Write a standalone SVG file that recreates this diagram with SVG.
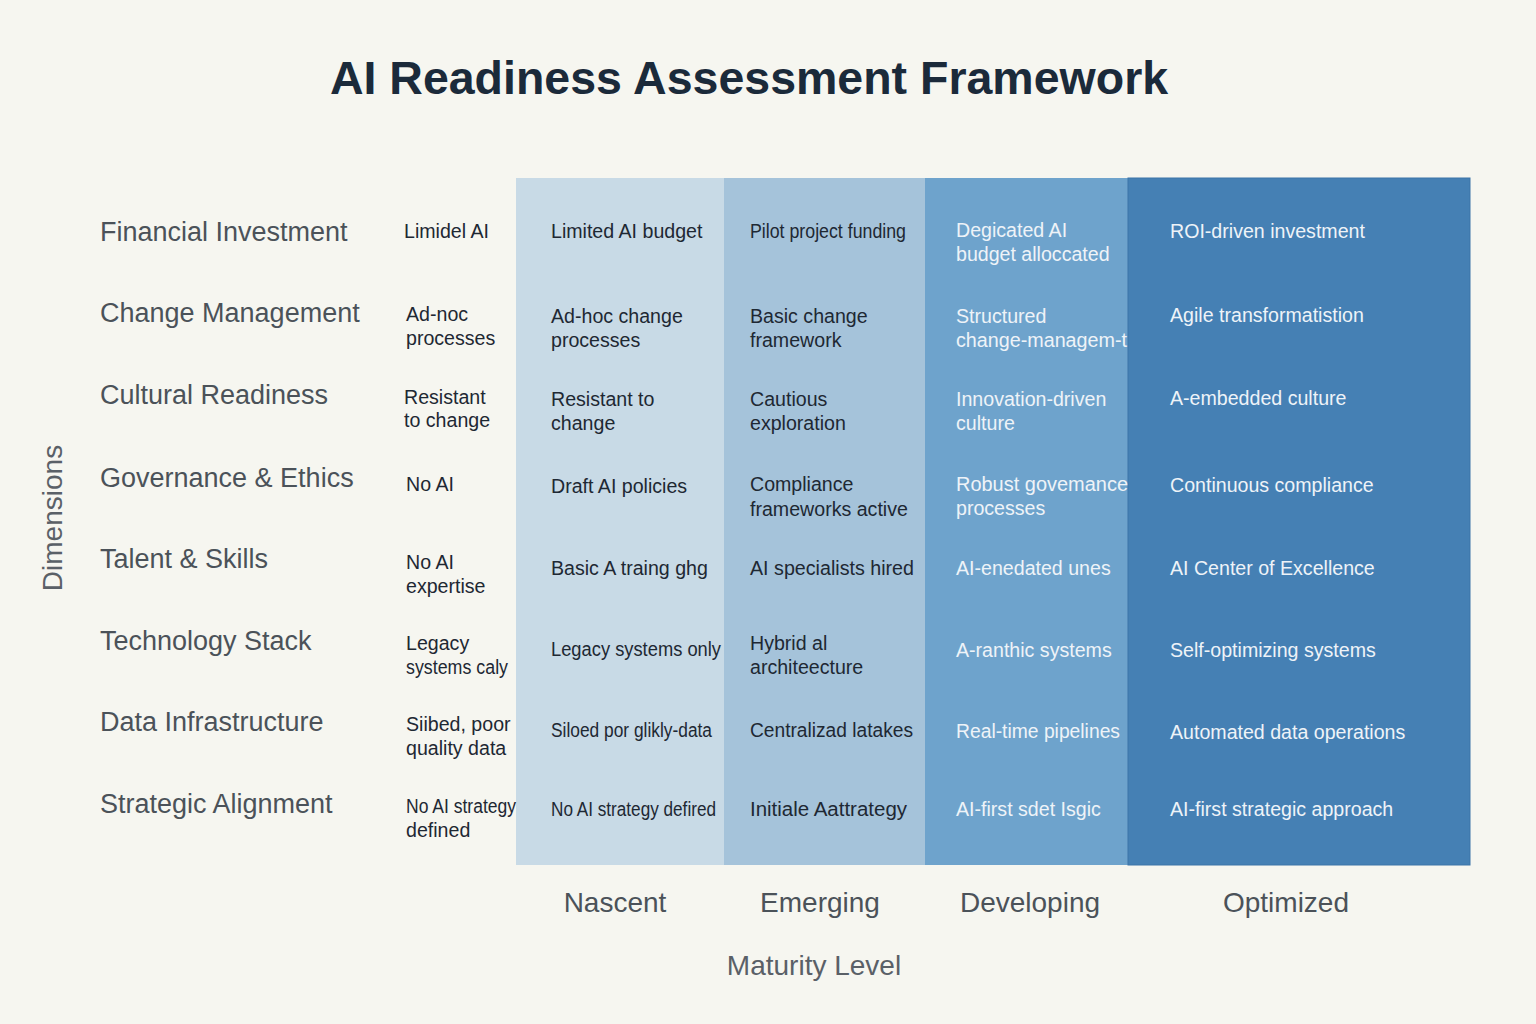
<svg xmlns="http://www.w3.org/2000/svg" width="1536" height="1024" viewBox="0 0 1536 1024">
<style>
.t{font-family:"Liberation Sans",Arial,sans-serif}
.title{font-size:46.5px;font-weight:bold;fill:#1b2a3a}
.row{font-size:27px;fill:#4b5259}
.c{font-size:19.6px;fill:#1e2833}
.w{font-size:19.6px;fill:#eef3f8}
.lvl{font-size:28px;fill:#4b5259}
.ax{font-size:28px;fill:#5a6067}
</style>
<rect width="1536" height="1024" fill="#f6f6f0"/>
<text class="t title" x="749" y="94" text-anchor="middle">AI Readiness Assessment Framework</text>
<g id="columns">
<rect x="516" y="178" width="208" height="687" fill="#c8dae6"/>
<rect x="724" y="178" width="201" height="687" fill="#a5c3da"/>
<rect x="925" y="178" width="203" height="687" fill="#6ea3cc"/>
<rect x="1128" y="178" width="342" height="687" fill="#4580b4" stroke="#3c74a8" stroke-width="1"/>
</g>
<g id="dimensions" class="t row">
<text x="100" y="241">Financial Investment</text>
<text x="100" y="322">Change Management</text>
<text x="100" y="404">Cultural Readiness</text>
<text x="100" y="487">Governance &amp; Ethics</text>
<text x="100" y="568">Talent &amp; Skills</text>
<text x="100" y="650">Technology Stack</text>
<text x="100" y="731">Data Infrastructure</text>
<text x="100" y="813">Strategic Alignment</text>
</g>
<g id="col-baseline" class="t c">
<text x="404" y="238">Limidel AI</text>
<text x="406" y="321">Ad-noc</text><text x="406" y="345">processes</text>
<text x="404" y="404">Resistant</text><text x="404" y="427">to change</text>
<text x="406" y="491">No AI</text>
<text x="406" y="569">No AI</text><text x="406" y="593">expertise</text>
<text x="406" y="650">Legacy</text><text x="406" y="674" textLength="102" lengthAdjust="spacingAndGlyphs">systems caly</text>
<text x="406" y="731">Siibed, poor</text><text x="406" y="755">quality data</text>
<text x="406" y="813" textLength="110" lengthAdjust="spacingAndGlyphs">No AI strategy</text><text x="406" y="837">defined</text>
</g>
<g id="col-nascent" class="t c">
<text x="551" y="238">Limited AI budget</text>
<text x="551" y="323">Ad-hoc change</text><text x="551" y="347">processes</text>
<text x="551" y="406">Resistant to</text><text x="551" y="430">change</text>
<text x="551" y="493">Draft AI policies</text>
<text x="551" y="575">Basic A traing ghg</text>
<text x="551" y="656" textLength="170" lengthAdjust="spacingAndGlyphs">Legacy systems only</text>
<text x="551" y="737" textLength="161" lengthAdjust="spacingAndGlyphs">Siloed por glikly-data</text>
<text x="551" y="816" textLength="165" lengthAdjust="spacingAndGlyphs">No AI strategy defired</text>
</g>
<g id="col-emerging" class="t c">
<text x="750" y="238" textLength="156" lengthAdjust="spacingAndGlyphs">Pilot project funding</text>
<text x="750" y="323">Basic change</text><text x="750" y="347">framework</text>
<text x="750" y="406">Cautious</text><text x="750" y="430">exploration</text>
<text x="750" y="491">Compliance</text><text x="750" y="516">frameworks active</text>
<text x="750" y="575" textLength="164" lengthAdjust="spacingAndGlyphs">AI specialists hired</text>
<text x="750" y="650">Hybrid al</text><text x="750" y="674">architeecture</text>
<text x="750" y="737" textLength="163" lengthAdjust="spacingAndGlyphs">Centralizad latakes</text>
<text x="750" y="816" textLength="157" lengthAdjust="spacingAndGlyphs">Initiale Aattrategy</text>
</g>
<g id="col-developing" class="t w">
<text x="956" y="237">Degicated AI</text><text x="956" y="261">budget alloccated</text>
<text x="956" y="323">Structured</text><text x="956" y="347" textLength="171" lengthAdjust="spacingAndGlyphs">change-managem-t</text>
<text x="956" y="406">Innovation-driven</text><text x="956" y="430">culture</text>
<text x="956" y="491" textLength="172" lengthAdjust="spacingAndGlyphs">Robust govemance</text><text x="956" y="515">processes</text>
<text x="956" y="575">AI-enedated unes</text>
<text x="956" y="657">A-ranthic systems</text>
<text x="956" y="738" textLength="164" lengthAdjust="spacingAndGlyphs">Real-time pipelines</text>
<text x="956" y="816">AI-first sdet Isgic</text>
</g>
<g id="col-optimized" class="t w">
<text x="1170" y="238">ROI-driven investment</text>
<text x="1170" y="322">Agile transformatistion</text>
<text x="1170" y="405">A-embedded culture</text>
<text x="1170" y="492">Continuous compliance</text>
<text x="1170" y="575">AI Center of Excellence</text>
<text x="1170" y="657">Self-optimizing systems</text>
<text x="1170" y="739">Automated data operations</text>
<text x="1170" y="816">AI-first strategic approach</text>
</g>
<g id="levels" class="t lvl" text-anchor="middle">
<text x="615" y="912">Nascent</text>
<text x="820" y="912">Emerging</text>
<text x="1030" y="912">Developing</text>
<text x="1286" y="912">Optimized</text>
</g>
<text class="t ax" x="814" y="975" text-anchor="middle">Maturity Level</text>
<text class="t ax" x="0" y="0" text-anchor="middle" transform="translate(62,518) rotate(-90)">Dimensions</text>
</svg>
